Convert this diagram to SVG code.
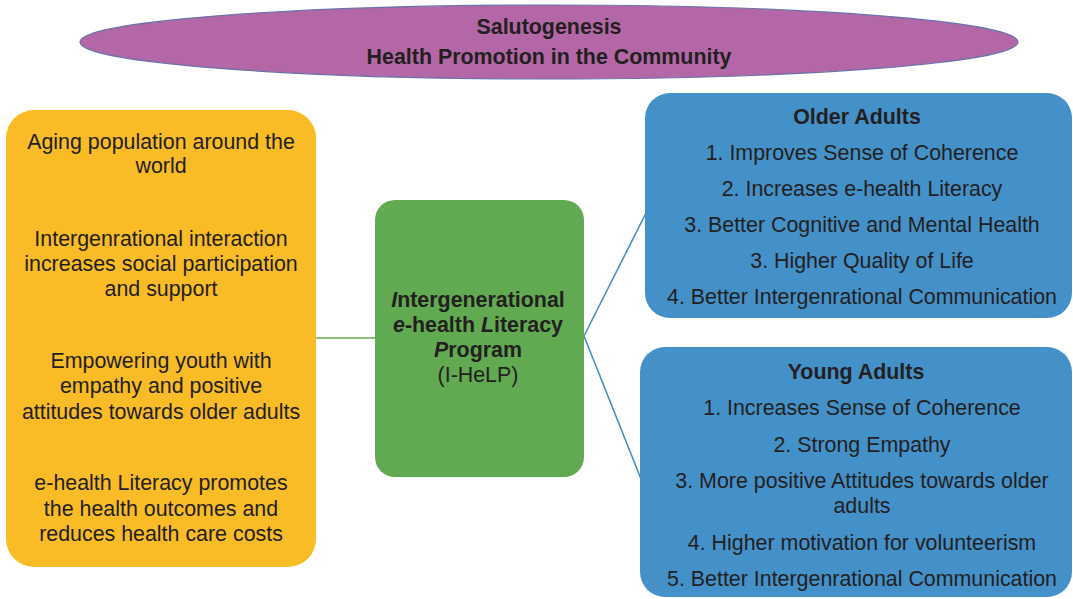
<svg xmlns="http://www.w3.org/2000/svg" width="1073" height="599" viewBox="0 0 1073 599">
<style>
text{font-family:"Liberation Sans",Arial,sans-serif;font-size:21.4px;fill:#231F20;text-anchor:middle}
.b{font-weight:bold}
.i{font-style:italic}
.conn-g{stroke:#62AA51;stroke-width:1.6;fill:none}
.conn-b{stroke:#4490C9;stroke-width:1.6;fill:none}
</style>
<rect width="1073" height="599" fill="#ffffff"/>
<g id="connectors">
<line class="conn-g" x1="316" y1="338" x2="375" y2="338"/>
<line class="conn-b" x1="584" y1="336" x2="646" y2="213"/>
<line class="conn-b" x1="584" y1="336" x2="641" y2="479"/>
</g>
<g id="salutogenesis">
<ellipse cx="549" cy="42" rx="469" ry="37" fill="#B467A7" stroke="#6B73A8" stroke-width="1.2"/>
<text class="b" x="549" y="34">Salutogenesis</text>
<text class="b" x="549" y="64">Health Promotion in the Community</text>
</g>
<g id="context">
<rect x="6" y="110" width="310" height="457" rx="28" fill="#F9BC26"/>
<text x="161" y="149">Aging population around the</text>
<text x="161" y="173">world</text>
<text x="161" y="246">Intergenrational interaction</text>
<text x="161" y="271">increases social participation</text>
<text x="161" y="296">and support</text>
<text x="161" y="368">Empowering youth with</text>
<text x="161" y="393">empathy and positive</text>
<text x="161" y="419">attitudes towards older adults</text>
<text x="161" y="490">e-health Literacy promotes</text>
<text x="161" y="516">the health outcomes and</text>
<text x="161" y="541">reduces health care costs</text>
</g>
<g id="ihelp">
<rect x="375" y="200" width="209" height="277" rx="20" fill="#62AA51"/>
<text class="b" x="478" y="307"><tspan class="i">I</tspan>ntergenerational</text>
<text class="b" x="478" y="332"><tspan class="i">e</tspan>-health <tspan class="i">L</tspan>iteracy</text>
<text class="b" x="478" y="357"><tspan class="i">P</tspan>rogram</text>
<text x="478" y="382">(I-HeLP)</text>
</g>
<g id="older-adults">
<rect x="645" y="93" width="427" height="225" rx="25" fill="#4490C9"/>
<text class="b" x="857" y="124">Older Adults</text>
<text x="862" y="160">1. Improves Sense of Coherence</text>
<text x="862" y="196">2. Increases e-health Literacy</text>
<text x="862" y="232">3. Better Cognitive and Mental Health</text>
<text x="862" y="268">3. Higher Quality of Life</text>
<text x="862" y="304">4. Better Intergenrational Communication</text>
</g>
<g id="young-adults">
<rect x="640" y="347" width="432" height="250" rx="25" fill="#4490C9"/>
<text class="b" x="856" y="379">Young Adults</text>
<text x="862" y="415">1. Increases Sense of Coherence</text>
<text x="862" y="452">2. Strong Empathy</text>
<text x="862" y="488">3. More positive Attitudes towards older</text>
<text x="862" y="513">adults</text>
<text x="862" y="550">4. Higher motivation for volunteerism</text>
<text x="862" y="586">5. Better Intergenrational Communication</text>
</g>
</svg>
